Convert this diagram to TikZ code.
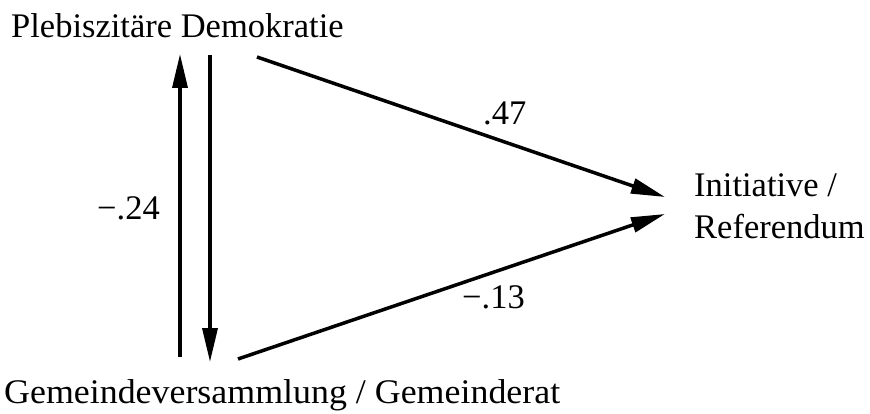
\documentclass[tikz,border=0pt]{standalone}
\usepackage{fontspec}
\setmainfont{Liberation Serif}
\usetikzlibrary{arrows.meta}
\begin{document}
\begin{tikzpicture}[x=1pt,y=-1pt,
  lbl/.style={font=\fontsize{34.5}{40}\selectfont, inner sep=0pt, anchor=base west},
  arr/.style={line width=3.5pt, -{Triangle[length=34pt,width=15pt]}}]
\useasboundingbox (0,0) rectangle (870,414);
\node[lbl] (pd) at (11,38) {Plebiszitäre Demokratie};
\node[lbl] (gg) at (4,403) {\scalebox{1.04}[1]{Gemeindeversammlung / Gemeinderat}};
\node[lbl] (ir) at (694,197) {Initiative /};
\node[lbl] (ir2) at (694,238) {Referendum};
\coordinate (u1) at (180,357); \coordinate (u2) at (180,54);
\coordinate (d1) at (210,55); \coordinate (d2) at (210,362);
\coordinate (a1) at (257,57); \coordinate (a2) at (665,197);
\coordinate (b1) at (238,359); \coordinate (b2) at (665,214);
\draw[arr] (u1) -- (u2);
\draw[arr] (d1) -- (d2);
\draw[arr] (a1) -- (a2);
\draw[arr] (b1) -- (b2);
\node[lbl] (l24) at (97,219) {−.24};
\node[lbl] (l47) at (483,125) {.47};
\node[lbl] (l13) at (462,308) {−.13};
\end{tikzpicture}
\end{document}
